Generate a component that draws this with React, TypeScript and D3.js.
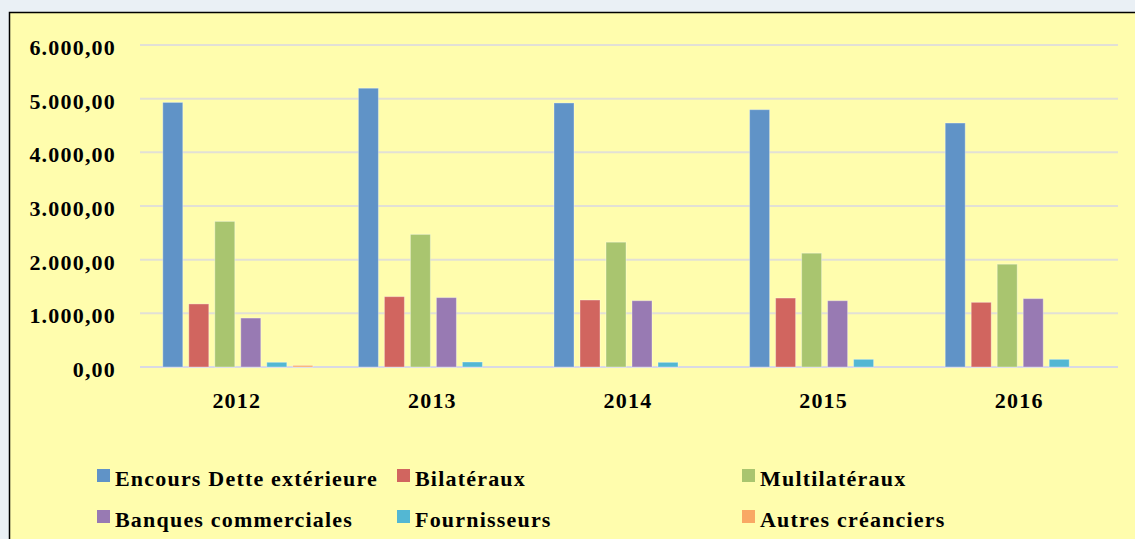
import React from "react";
import * as d3 from "d3";

const years = ["2012", "2013", "2014", "2015", "2016"];
const seriesNames = [
  "Encours Dette extérieure",
  "Bilatéraux",
  "Multilatéraux",
  "Banques commerciales",
  "Fournisseurs",
  "Autres créanciers",
];
const encours = [4930, 5195, 4920, 4795, 4546];
const bilateraux = [1175, 1311, 1248, 1285, 1205];
const multilateraux = [2713, 2471, 2326, 2121, 1916];
const banques = [912, 1293, 1235, 1235, 1274];
const fournisseurs = [88, 93, 87, 143, 143];
const autres = [30, 0, 0, 0, 0];
const yTicks = [0, 1000, 2000, 3000, 4000, 5000, 6000];
const colors = ["#6093c7", "#d1655f", "#a9c56f", "#987ab3", "#53b7d3", "#f9a864"];

const allSeries = [encours, bilateraux, multilateraux, banques, fournisseurs, autres];

const fmt = (v: number) => {
  const s = d3.format(",.2f")(v);
  return s.replace(/,/g, "#").replace(".", ",").replace(/#/g, ".");
};

export default function App() {
  const W = 1135;
  const H = 539;
  const left = 140;
  const right = 1118;
  const y0 = 367;
  const y6 = 45;

  const x = d3.scaleBand<string>().domain(years).range([left, right]).padding(0);
  const bw = x.bandwidth();
  const pi = 6 / 26;
  const po = (bw / 26 - 6 + pi) / 2;
  const xs = d3
    .scaleBand<string>()
    .domain(seriesNames)
    .range([0, bw])
    .paddingInner(pi)
    .paddingOuter(po);
  const y = d3.scaleLinear().domain([0, 6000]).range([y0, y6]);

  const font = "'Liberation Serif', 'Times New Roman', serif";

  const legendPos = [
    [97, 469],
    [397, 469],
    [742, 469],
    [97, 510],
    [397, 510],
    [742, 510],
  ];

  return (
    <svg
      width={W}
      height={H}
      style={{ position: "absolute", left: 0, top: 0 }}
      fontFamily={font}
      fontWeight="bold"
    >
      <rect x={0} y={0} width={W} height={H} fill="#eaf0f5" />
      <rect x={9.5} y={12.5} width={W} height={H} fill="#fffdad" stroke="#000" strokeWidth={1.5} />
      {yTicks.map((t) => (
        <g key={t}>
          <line
            x1={left}
            x2={right}
            y1={y(t)}
            y2={y(t)}
            stroke={t === 0 ? "#d9d9e4" : "#e2e0d6"}
            strokeWidth={2}
          />
          <text
            x={116}
            y={y(t) + 10}
            textAnchor="end"
            fontSize={22}
            letterSpacing={1.2}
            fill="#000"
          >
            {fmt(t)}
          </text>
        </g>
      ))}
      {years.map((yr, i) => (
        <g key={yr} transform={`translate(${x(yr)},0)`}>
          {allSeries.map((s, j) =>
            s[i] > 0 ? (
              <rect
                key={j}
                x={xs(seriesNames[j])}
                y={y(s[i])}
                width={xs.bandwidth()}
                height={y0 - y(s[i])}
                fill={colors[j]}
                stroke="rgba(255,255,255,0.35)"
                strokeWidth={1}
              />
            ) : null
          )}
          <text
            x={bw / 2 - 1}
            y={408}
            textAnchor="middle"
            fontSize={22}
            letterSpacing={1.2}
            fill="#000"
          >
            {yr}
          </text>
        </g>
      ))}
      {seriesNames.map((n, j) => (
        <g key={n} transform={`translate(${legendPos[j][0]},${legendPos[j][1]})`}>
          <rect x={0} y={0} width={13} height={13} fill={colors[j]} />
          <text x={18} y={17} fontSize={22} letterSpacing={1.2} fill="#000">
            {n}
          </text>
        </g>
      ))}
    </svg>
  );
}
